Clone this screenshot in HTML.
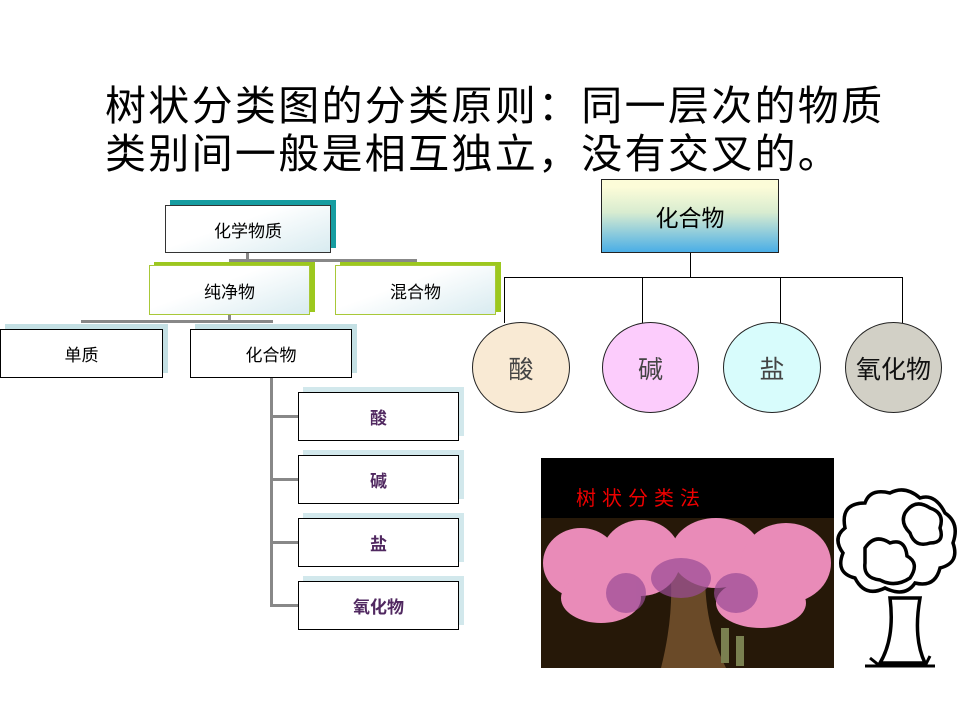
<!DOCTYPE html>
<html><head><meta charset="utf-8"><style>
body{margin:0;width:960px;height:720px;background:#fff;position:relative;overflow:hidden;font-family:"Liberation Sans","Noto Sans CJK SC",sans-serif}
.a{position:absolute;box-sizing:border-box}
.t{position:absolute;left:105px;font-size:41px;color:#000;white-space:nowrap;letter-spacing:2.3px;font-family:"Liberation Sans","Noto Sans CJK SC",sans-serif}
.bx{position:absolute;box-sizing:border-box;border:1px solid #333;display:flex;align-items:center;justify-content:center;font-size:17px;background:linear-gradient(160deg,#fff 40%,#d8ebf0)}
.sh{position:absolute}
.ln{position:absolute;background:#888}
.bl{position:absolute;background:#000}
.c{position:absolute;border:1px solid #222;border-radius:50%;display:flex;align-items:center;justify-content:center;font-size:25px;color:#444;box-sizing:border-box}
</style></head><body>
<div class="t" style="top:72px">树状分类图的分类原则：同一层次的物质</div>
<div class="t" style="top:120px">类别间一般是相互独立，没有交叉的。</div>

<!-- left tree -->
<div class="sh" style="left:170px;top:200px;width:166px;height:48px;background:#169ca0"></div>
<div class="bx" style="left:165px;top:205px;width:166px;height:48px">化学物质</div>
<div class="ln" style="left:246px;top:253px;width:3px;height:9px"></div>
<div class="ln" style="left:229px;top:259px;width:188px;height:3px"></div>
<div class="sh" style="left:154px;top:262px;width:161px;height:50px;background:#9cc81e"></div>
<div class="bx" style="left:149px;top:265px;width:161px;height:50px;border-color:#a8c838">纯净物</div>
<div class="sh" style="left:340px;top:262px;width:161px;height:50px;background:#9cc81e"></div>
<div class="bx" style="left:335px;top:265px;width:161px;height:50px;border-color:#a8c838">混合物</div>
<div class="ln" style="left:228px;top:315px;width:3px;height:8px"></div>
<div class="ln" style="left:81px;top:320px;width:192px;height:3px"></div>
<div class="sh" style="left:5px;top:324px;width:163px;height:49px;background:#c4e0e4"></div>
<div class="bx" style="left:0;top:329px;width:163px;height:49px;background:#fff;border-color:#000">单质</div>
<div class="sh" style="left:195px;top:324px;width:162px;height:49px;background:#c4e0e4"></div>
<div class="bx" style="left:190px;top:329px;width:162px;height:49px;background:#fff;border-color:#000">化合物</div>
<div class="ln" style="left:270px;top:378px;width:3px;height:228px"></div>
<div class="ln" style="left:270px;top:415px;width:29px;height:3px"></div>
<div class="ln" style="left:270px;top:478px;width:29px;height:3px"></div>
<div class="ln" style="left:270px;top:541px;width:29px;height:3px"></div>
<div class="ln" style="left:270px;top:604px;width:29px;height:3px"></div>
<div class="sh" style="left:303px;top:387px;width:161px;height:49px;background:#d2e8ec"></div>
<div class="bx" style="left:298px;top:392px;width:161px;height:49px;background:#fff;border-color:#000;color:#502860;font-weight:bold">酸</div>
<div class="sh" style="left:303px;top:450px;width:161px;height:49px;background:#d2e8ec"></div>
<div class="bx" style="left:298px;top:455px;width:161px;height:49px;background:#fff;border-color:#000;color:#502860;font-weight:bold">碱</div>
<div class="sh" style="left:303px;top:513px;width:161px;height:49px;background:#d2e8ec"></div>
<div class="bx" style="left:298px;top:518px;width:161px;height:49px;background:#fff;border-color:#000;color:#502860;font-weight:bold">盐</div>
<div class="sh" style="left:303px;top:576px;width:161px;height:49px;background:#d2e8ec"></div>
<div class="bx" style="left:298px;top:581px;width:161px;height:49px;background:#fff;border-color:#000;color:#502860;font-weight:bold">氧化物</div>

<!-- right tree -->
<div class="a" style="left:601px;top:179px;width:178px;height:74px;border:1px solid #222;background:linear-gradient(#fcfcd8 10%,#d8ecd0 45%,#4aaee6);display:flex;align-items:center;justify-content:center;font-size:23px">化合物</div>
<div class="bl" style="left:690px;top:253px;width:1px;height:24px"></div>
<div class="bl" style="left:504px;top:277px;width:399px;height:1px"></div>
<div class="bl" style="left:504px;top:277px;width:1px;height:46px"></div>
<div class="bl" style="left:642px;top:277px;width:1px;height:46px"></div>
<div class="bl" style="left:780px;top:277px;width:1px;height:46px"></div>
<div class="bl" style="left:902px;top:277px;width:1px;height:46px"></div>
<div class="c" style="left:472px;top:322px;width:98px;height:91px;background:#f9ead4">酸</div>
<div class="c" style="left:602px;top:322px;width:97px;height:91px;background:#fcccfc">碱</div>
<div class="c" style="left:723px;top:322px;width:98px;height:91px;background:#d8fcfc">盐</div>
<div class="c" style="left:845px;top:322px;width:97px;height:91px;background:#d2d0c6;color:#111">氧化物</div>

<!-- image -->
<div class="a" style="left:541px;top:458px;width:293px;height:210px;background:#261808;overflow:hidden">
<div class="a" style="left:0;top:0;width:293px;height:60px;background:#000"></div>
<div class="a" style="left:35px;top:24px;color:#e00;font-size:20px;letter-spacing:6px">树状分类法</div>
<svg class="a" style="left:0;top:60px" width="293" height="150">
<path d="M120 150 Q135 90 128 40 L165 40 Q160 100 185 150Z" fill="#6a4a28"/>
<g fill="#e98bb8">
<ellipse cx="40" cy="45" rx="38" ry="35"/><ellipse cx="100" cy="40" rx="40" ry="38"/>
<ellipse cx="175" cy="35" rx="45" ry="35"/><ellipse cx="245" cy="45" rx="45" ry="40"/>
<ellipse cx="60" cy="80" rx="40" ry="25"/><ellipse cx="220" cy="85" rx="45" ry="25"/>
</g>
<g fill="#9a4c96" opacity=".7"><ellipse cx="140" cy="60" rx="30" ry="20"/><ellipse cx="85" cy="75" rx="20" ry="20"/><ellipse cx="195" cy="75" rx="22" ry="20"/></g>
<rect x="180" y="110" width="8" height="35" fill="#7a8050"/><rect x="195" y="118" width="8" height="30" fill="#7a8050"/>
</svg>
</div>

<!-- cartoon tree -->
<svg class="a" style="left:835px;top:488px" width="125" height="185" viewBox="0 0 125 185">
<g fill="#fff" stroke="#000" stroke-width="3.5">
<path d="M55 110 Q60 150 45 175 L90 175 Q78 150 85 110Z"/>
<path d="M10 40 Q5 15 30 15 Q35 0 55 5 Q70 -3 85 10 Q100 5 110 25 Q125 35 118 55 Q125 75 105 80 Q100 100 80 95 Q70 110 50 100 Q30 110 20 90 Q0 85 8 65 Q-3 50 10 40Z"/>
<path d="M30 60 Q40 45 55 55 Q70 50 72 68 Q85 75 75 90 Q60 100 45 92 Q28 90 30 75Z"/>
<path d="M70 25 Q80 10 95 20 Q110 25 105 40 Q110 55 95 55 Q80 60 75 45 Q65 35 70 25Z"/>
</g>
<path d="M30 178 L100 178 M35 170 L45 178 M95 168 L90 178" stroke="#000" stroke-width="3"/>
</svg>
</body></html>
